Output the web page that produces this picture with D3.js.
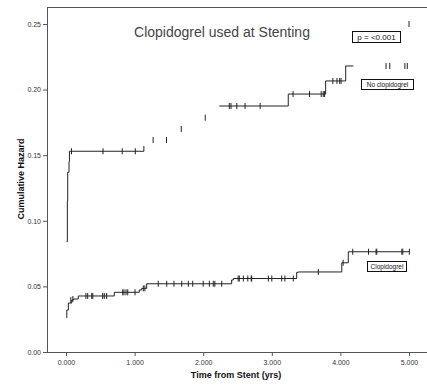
<!DOCTYPE html>
<html><head><meta charset="utf-8">
<script src="https://cdn.jsdelivr.net/npm/d3@7"></script>
<style>body{margin:0;background:#fff}svg{display:block}text{font-family:"Liberation Sans",Arial,sans-serif}</style>
</head><body>
<script>
// ---- data ----
const xTicks = [0,1,2,3,4,5];
const yTicks = [0,0.05,0.10,0.15,0.20,0.25];
// No clopidogrel: step points [time, hazard]; null = gap in the drawn line
const noClopSteps = [[0.01,0.084],[0.02,0.115],[0.025,0.137],[0.044,0.145],[0.05,0.153],[1.135,0.157],null,
  [2.235,0.1875],[3.24,0.1966],[3.785,0.2066],[4.077,0.218],[4.19,0.218]];
const noClopCensor = [[0.08,0.153],[0.54,0.153],[0.82,0.153],[1.01,0.153],
  [1.27,0.1616],[1.465,0.1616],[1.68,0.170],[2.03,0.1786],
  [2.38,0.1875],[2.405,0.1875],[2.49,0.1875],[2.61,0.1875],[2.83,0.1875],
  [3.31,0.1966],[3.55,0.1966],[3.72,0.1966],[3.75,0.1966],[3.77,0.1966],
  [3.89,0.2066],[3.95,0.2066],[3.99,0.2066],[4.01,0.2066],
  [4.665,0.218],[4.72,0.218],[4.94,0.218],[4.975,0.218],[5.0,0.25]];
// Clopidogrel
const clopSteps = [[0.01,0.026],[0.012,0.032],[0.034,0.0373],[0.083,0.0396],[0.106,0.0404],[0.179,0.0427],
  [0.704,0.0455],[1.068,0.0473],[1.103,0.0485],[1.176,0.052],[2.415,0.0549],[2.44,0.056],
  [3.363,0.0607],[3.386,0.061],[4.02,0.068],[4.115,0.0764],[5.005,0.0764]];
const clopCensor = [[0.07,0.0396],[0.1,0.0404],[0.29,0.0427],[0.316,0.0427],[0.375,0.0427],[0.39,0.0427],
  [0.535,0.0427],[0.558,0.0427],[0.593,0.0427],
  [0.827,0.0455],[0.845,0.0455],[0.875,0.0455],[0.9,0.0455],[1.006,0.0455],
  [1.127,0.0485],[1.15,0.0485],
  [1.345,0.052],[1.468,0.052],[1.574,0.052],[1.687,0.052],[1.783,0.052],[1.847,0.052],[2.0,0.052],
  [2.09,0.052],[2.147,0.052],[2.17,0.052],[2.27,0.052],
  [2.51,0.056],[2.526,0.056],[2.585,0.056],[2.65,0.056],[2.70,0.056],[2.707,0.056],[2.95,0.056],
  [3.0,0.056],[3.144,0.056],[3.19,0.056],[3.313,0.056],
  [3.678,0.061],[4.04,0.068],
  [4.18,0.0764],[4.41,0.0764],[4.52,0.0764],[4.53,0.0764],[4.895,0.0764],[4.91,0.0764],[5.005,0.0764]];
const title = "Clopidogrel used at Stenting";
const xLabel = "Time from Stent (yrs)";
const yLabel = "Cumulative Hazard";
const pLabel = "p = <0.001";
const groupLabels = ["No clopidogrel","Clopidogrel"];

// ---- layout ----
const W=427,H=385;
const frameL=47, frameR=427, frameT=7, frameB=352;
const x = d3.scaleLinear().domain([0,5]).range([66,409]);
const y = d3.scaleLinear().domain([0,0.25]).range([352,24]);
const svg = d3.select("body").append("svg").attr("width",W).attr("height",H);
const axisCol="#555", lineCol="#222", textCol="#333";

// frame
svg.append("line").attr("x1",frameL).attr("x2",frameR).attr("y1",frameT+0.5).attr("y2",frameT+0.5).attr("stroke",axisCol);

// axes
const gx = svg.append("g").attr("transform",`translate(0,${frameB})`)
  .call(d3.axisBottom(x).tickValues(xTicks).tickFormat(d3.format(".3f")).tickSize(4).tickSizeOuter(0));
gx.select(".domain").remove();
gx.selectAll("line").attr("stroke",axisCol);
gx.selectAll("text").attr("font-size",7).attr("fill",textCol).attr("dy","0.9em");
const gy = svg.append("g").attr("transform",`translate(${frameL},0)`)
  .call(d3.axisLeft(y).tickValues(yTicks).tickFormat(d3.format(".2f")).tickSize(4).tickSizeOuter(0));
gy.select(".domain").remove();
gy.selectAll("line").attr("stroke",axisCol);
gy.selectAll("text").attr("font-size",7).attr("fill",textCol).attr("x",-6);
svg.append("line").attr("x1",frameL+0.5).attr("x2",frameL+0.5).attr("y1",frameT).attr("y2",frameB+0.5).attr("stroke",axisCol);
svg.append("line").attr("x1",frameL).attr("x2",frameR).attr("y1",frameB+0.5).attr("y2",frameB+0.5).attr("stroke",axisCol);

// curves
const line = d3.line().defined(d=>d!==null).x(d=>x(d[0])).y(d=>y(d[1])).curve(d3.curveStepAfter);
[noClopSteps,clopSteps].forEach(s=>{
  svg.append("path").attr("d",line(s)).attr("fill","none").attr("stroke",lineCol).attr("stroke-width",1);
});
[noClopCensor,clopCensor].forEach(c=>{
  svg.append("g").selectAll("line").data(c).join("line")
    .attr("x1",d=>x(d[0])).attr("x2",d=>x(d[0]))
    .attr("y1",d=>y(d[1])-3).attr("y2",d=>y(d[1])+3)
    .attr("stroke",lineCol).attr("stroke-width",1);
});

// texts
svg.append("text").attr("x",222).attr("y",37).attr("text-anchor","middle").attr("font-size",14).attr("fill","#444").text(title);
svg.append("text").attr("x",236).attr("y",378).attr("text-anchor","middle").attr("font-size",9).attr("font-weight","bold").attr("fill","#111").text(xLabel);
svg.append("text").attr("transform","translate(24,179) rotate(-90)").attr("text-anchor","middle").attr("font-size",9).attr("font-weight","bold").attr("fill","#111").text(yLabel);

function boxLabel(txt,x0,y0,w,h,fs){
  svg.append("rect").attr("x",x0+0.5).attr("y",y0+0.5).attr("width",w).attr("height",h).attr("fill","#fff").attr("stroke","#111");
  svg.append("text").attr("x",x0+w/2+0.5).attr("y",y0+h/2+0.5).attr("dy","0.35em").attr("text-anchor","middle").attr("font-size",fs).attr("fill","#111").text(txt);
}
boxLabel(pLabel,352,31,48,11,8);
boxLabel(groupLabels[0],361,79,52,10,6.5);
boxLabel(groupLabels[1],367,261,39,10,6.5);
</script>
</body></html>
